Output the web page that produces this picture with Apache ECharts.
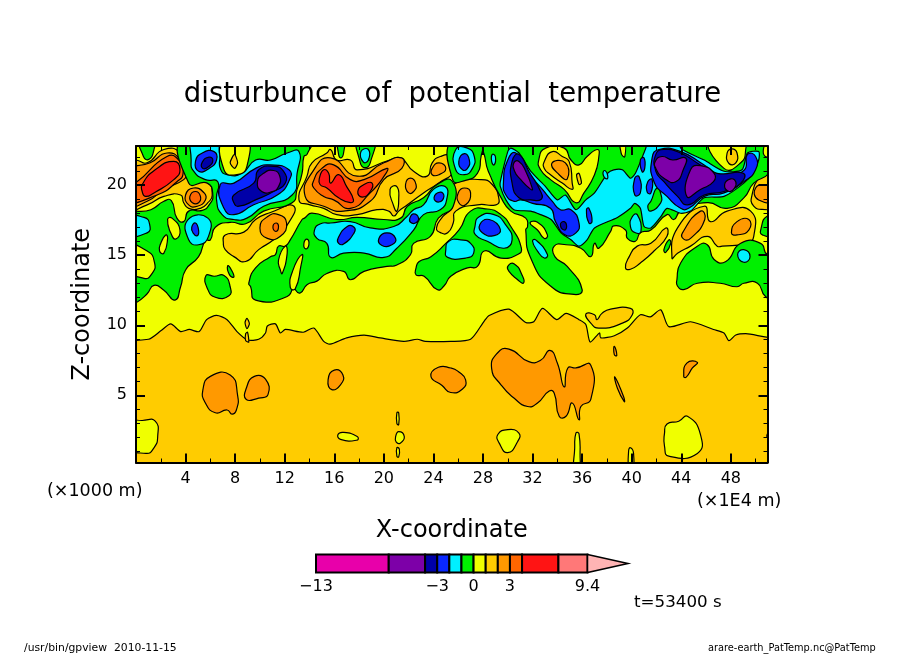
<!DOCTYPE html>
<html><head><meta charset="utf-8">
<style>html,body{margin:0;padding:0;background:#fff}#c{width:904px;height:654px}</style>
<script src="https://cdn.jsdelivr.net/npm/echarts@6/dist/echarts.min.js"></script>
</head><body><div id="c"></div>
<script>
// ---- labels and ticks
const xTicks=[4,8,12,16,20,24,28,32,36,40,44,48];
const zTicks=[5,10,15,20];
const zMinorTicks=[1,2,3,4,6,7,8,9,11,12,13,14,16,17,18,19,21,22];
const barLabels=[-13,-3,0,3,9.4];
// ---- colour scale: band edges and colours
const levels=[-13,-7,-4,-3,-2,-1,0,1,2,3,4,7,9.4];
const bandColors=['#e800aa','#7d00a8','#0000a8','#0a28ff','#00f0ff','#00f000','#f0ff00','#ffcc00','#ff9900','#ff6600','#ff1414','#ff7878'];
const overColor='#ffb4b4';
const barTip=12.74;
// ---- contour outlines, each as [x (1000 m), z (1000 m)]
const baseField=[[-1,-1],[53,-1],[53,24],[-1,24]];
const yellowUpper=[[-1,9.2],[1,9],[2,9.6],[2.8,10.1],[3.6,9.55],[4.3,9.7],[5.1,9.55],[5.7,10.4],[6.5,10.7],[7.35,10.4],[8.15,9.55],[9,8.95],[9.9,9],[10.45,9.45],[10.6,9.95],[11.25,10.1],[11.65,9.45],[12.05,9.7],[13.5,9.5],[14.35,9.8],[15.15,8.85],[15.65,8.65],[17,9.1],[18.4,9.3],[19.7,9.1],[21.6,8.85],[22.7,9],[23.35,8.85],[25.4,8.85],[27,9],[28.1,10.3],[28.5,10.7],[30.1,11.15],[31.45,10.2],[32.1,10.25],[32.8,11.2],[33.95,10.4],[34.7,10.85],[35.75,10.4],[36.3,10.05],[36.65,8.8],[37.4,9.45],[37.5,9.1],[38.6,9.25],[39.65,9.8],[40.7,10.75],[41.5,10.6],[42.35,11.1],[43,9.9],[44.75,10.25],[46.6,9.7],[47.45,9.45],[47.85,8.9],[48.4,9.3],[49.2,9.4],[52,9.3],[53,24],[-1,24]];
const goldInYellow1=[[36.3,10.8],[37,10.75],[37.2,10.4],[37.6,10.85],[38.3,11.15],[39.9,11.2],[40.05,10.75],[39.25,10.15],[37.35,9.8],[36.7,10.15]];
const goldInYellow2=[[8.8,10.2],[8.95,10.5],[9.15,10.1],[8.95,9.75]];
const goldInYellow3=[[8.85,9.4],[9,9.5],[9.1,8.8],[8.85,8.9]];
const orangeLow1=[[5.4,5.4],[6,6.35],[7.6,6.45],[8.2,5],[8.1,3.95],[7.75,3.65],[7.35,3.95],[6.4,3.75],[5.6,4.45]];
const orangeLow2=[[8.9,5.5],[9.55,6.35],[10.45,6.15],[10.65,5.05],[9.9,4.8],[8.9,4.7]];
const orangeLow3=[[15.5,6.1],[16,6.8],[16.7,6.45],[16.5,5.75],[15.8,5.4]];
const orangeLow4=[[23.8,6.35],[24.4,7],[25.4,6.95],[26,6.7],[26.6,6.1],[26.35,5.45],[25.4,5.2],[24.7,5.7]];
const orangeLow5=[[28.7,6.9],[29.15,8],[30.1,8.3],[31.7,7.4],[32.65,7.5],[33.4,8.2],[34,7.3],[34.55,5.6],[34.85,6.95],[35.5,6.95],[36.7,7.15],[36.7,4.7],[35.9,4.2],[35.75,3.25],[35.2,4.45],[34.7,3.5],[34.15,3.5],[33.75,5.15],[33.35,5.3],[32.4,4.45],[31.6,4.2],[30.5,4.8],[29.45,5.75]];
const orangeLow6=[[38.6,8.5],[38.8,7.85],[38.6,7.9]];
const orangeLow7=[[38.65,6.3],[39.35,4.9],[39.4,4.55],[38.85,5.5]];
const orangeLow8=[[44.2,6.35],[44.45,7.3],[45.3,7.35],[44.9,6.95],[44.4,6.3]];
const yellowLow1=[[-1,3.1],[0.5,3.2],[1.55,3.15],[1.75,2.05],[1.45,1.25],[0.8,0.85],[-1,1.45]];
const yellowLow2=[[16.3,2.2],[16.75,2.35],[17.85,2.05],[17.85,1.8],[16.5,1.85]];
const yellowLow3=[[21.05,3.75],[21.2,3.75],[21.2,2.9],[21.05,3]];
const yellowLow4=[[20.95,2.05],[21.2,2.4],[21.65,2.05],[21.35,1.6],[21,1.65]];
const yellowLow5=[[21.05,1.25],[21.25,1.15],[21.2,0.6],[21.05,0.65]];
const yellowLow6=[[29.2,2.2],[30,2.55],[30.9,2.3],[30.8,1.7],[30,0.9],[29.3,1.6]];
const yellowLow7=[[35.5,2.3],[35.75,2.25],[35.85,0.3],[35.9,-0.5],[35.4,-0.5],[35.4,1.2]];
const yellowLow8=[[39.75,1],[39.9,1.25],[40.15,0.85],[40.05,-0.5],[39.8,-0.5]];
const yellowLow9=[[42.65,2.3],[42.85,2.95],[43.8,3.15],[44.5,3.5],[45.55,2.2],[45.3,0.85],[43,0.65],[42.65,1.35]];
const yellowLow10=[[50.9,2.1],[52,2.6],[52,1.6]];
// warm cells in the upper field
const goldA=[[-1,21.8],[0,21.8],[0.9,21.6],[2.25,22.55],[3.6,22.3],[4.2,21],[4.25,20.3],[5.75,20.2],[6.15,19.3],[5.8,18.75],[5.2,18.35],[4.25,18.35],[3.85,18.75],[3.6,19.3],[2.25,19.2],[0.9,18.6],[-1,18.25]];
const orangeA=[[-1,20.9],[1.15,21.6],[2.5,22.3],[3.6,21.8],[4,20.85],[3.85,20.4],[2.25,19.7],[0.9,18.85],[-1,18.5]];
const darkOrangeA=[[-1,19.9],[0,20.2],[2.5,22.05],[3.45,21.8],[3.8,20.85],[3.3,20.25],[1.7,19.3],[-1,18.8]];
const redA=[[0.5,20.05],[1.55,21.1],[3.05,21.7],[3.55,21.1],[3.05,20.4],[1.45,19.45],[0.75,19.2],[0.5,19.55]];
const orangeB=[[4,19.3],[4.65,19.8],[5.5,19.45],[5.6,18.95],[4.95,18.5],[4.25,18.6]];
const darkOrangeB=[[4.35,19.2],[4.8,19.55],[5.2,19.2],[5.05,18.75],[4.55,18.75]];
const goldC=[[13.15,18.95],[13.8,20.65],[14.2,21.6],[15.4,22.3],[15.7,22.55],[16.2,21.8],[17.3,21.8],[17.85,21.1],[20.5,21.8],[21.35,21.95],[22.4,21],[23.5,20.65],[23.9,21.6],[24.55,22.05],[25.35,22.05],[25.6,21],[24.4,20.15],[23.2,19.45],[21.9,18.6],[21.2,18.15],[20.8,17.8],[20.4,18.15],[19.45,18.25],[17.85,17.9],[16.2,17.9],[15.15,18.35],[14.05,18.6]];
const yellowInGoldC=[[20.5,19.7],[21.05,19.9],[21.2,18.95],[21.05,18.15],[20.8,18.5]];
const orangeC=[[13.65,19.2],[14.35,21.1],[15.7,21.95],[17.85,20.65],[20,21.6],[21.45,21.95],[21.45,21.2],[20,20.4],[18.9,18.85],[16.75,18.15],[15.15,18.5]];
const darkOrangeC=[[14.3,20.25],[15,21.2],[15.95,21.45],[17.3,20.4],[18.4,20.4],[20.25,21.2],[20.1,20.75],[18.9,19.45],[17.3,18.35],[15.95,18.95],[15.15,19.2],[14.35,19.8]];
const redC1=[[14.8,20.5],[15.15,21.1],[15.55,20.85],[15.7,20.15],[16.35,20.75],[17,19.9],[17.55,18.95],[17.3,18.75],[16.35,19.1],[15.4,19.8],[14.85,20.05]];
const redC2=[[17.9,19.55],[18.4,20.05],[19.05,20.15],[18.9,19.55],[18.25,19.15]];
const orangeD=[[21.75,20.05],[22.15,20.5],[22.6,20.05],[22.4,19.55],[22,19.45]];
const orangeE=[[23.9,21.2],[24.45,21.6],[25,21.2],[24.45,20.75],[23.9,20.75]];
const goldF=[[7.05,15.85],[7.2,16.45],[8.7,16.65],[9.65,17.55],[10.85,18.05],[12.75,18.5],[12.05,16.95],[11.1,16.1],[9.9,15.4],[8.85,14.55],[7.9,14.9],[7.2,15.4]];
const orangeF=[[10,16.95],[10.6,17.75],[11.5,17.9],[12.15,17.3],[11.65,16.35],[10.6,16.2]];
const darkOrangeF=[[11.05,17],[11.3,17.3],[11.5,17.05],[11.3,16.7]];
const goldG=[[25.8,20.15],[27.8,20.4],[28.75,20.05],[29.3,18.95],[29.05,18.6],[27.55,18.6],[25.8,18.15],[25.6,17.3],[25.15,16.6],[24.6,16.6],[24.25,16.95],[24.75,17.75],[25.4,18.35],[25.25,19.3]];
const orangeG=[[26,19.45],[26.5,19.8],[27,19.45],[26.6,18.6],[26.05,18.75]];
const goldH=[[39.5,14.1],[39.8,14.9],[40.45,15.65],[41.55,15.85],[42.75,16.95],[42.85,16.35],[41.8,15.3],[40.7,14.45],[39.9,14]];
const goldI=[[43.25,14.8],[43.7,16.95],[45.85,18.5],[46.35,17.4],[47.7,18.15],[49.6,18.15],[49.85,16.35],[49.2,15.85],[47.3,15.65],[46.9,15.65],[46.1,16.35],[44.75,15.65],[43.7,15.15]];
const orangeI1=[[44.1,16.6],[45.55,18.15],[45.9,17.55],[44.75,16.2],[44.2,16.15]];
const orangeI2=[[48.05,16.6],[48.5,17.4],[49.45,17.55],[49.45,16.8],[48.5,16.45]];
const goldJ=[[49.75,19.45],[50.4,20.65],[50.95,20.85],[52,20.65],[52,18.25],[50.95,18.25],[49.85,18.5]];
const orangeJ=[[50,19.8],[50.95,20.05],[52,20.05],[52,18.95],[50.25,18.95]];
// green cells
const greenA=[[-1,17.7],[1.2,18.25],[2.25,18.85],[2.85,18.9],[3.3,17.65],[3.85,17.4],[4.25,18.15],[5.35,18.2],[5.9,18.6],[6.2,19.3],[5.75,20.15],[4.25,20.15],[4.1,23.5],[14.2,23.5],[13.8,22.2],[13.55,22.05],[13.4,20.85],[13,19.7],[12.6,18.75],[10.3,18.15],[8.85,17.25],[7.6,17.35],[6.4,17],[6,16.1],[5.6,16.05],[5.05,14.9],[4,13.95],[3.6,12.75],[3.15,11.8],[2.25,12.5],[1.45,12.85],[0.9,12.25],[0,11.6],[-1,11.2]];
const greenB=[[5.65,13.55],[6.3,13.5],[7.1,13.55],[7.6,12.75],[7.5,12.1],[6.4,12],[5.75,12.65]];
const greenC=[[7.4,14.25],[7.7,13.95],[7.9,13.45],[7.55,13.6]];
const greenD=[[13.6,17.65],[14.2,18],[16.2,17.55],[17.85,17.7],[20,17.55],[21.35,17.65],[21.9,18.5],[23.2,19.1],[24.3,20.05],[25.5,20.3],[25.6,18.5],[24.4,17.65],[23.75,16.35],[22.4,15.85],[22.15,15.05],[21.05,14.3],[20.25,14.2],[18.4,13.85],[17.3,13.25],[16.75,13.85],[15.4,13.7],[14.6,13.15],[13.8,12.9],[13.25,12.3],[12.85,12.55],[12.75,13],[12.2,12.05],[9.65,11.8],[9.25,12.75],[9.1,13],[9.65,14.1],[10.85,14.9],[11.25,15.05],[11.5,15.65],[12.05,15.65],[12.45,16.1],[13.4,17.55]];
const greenE=[[22.6,14.1],[22.6,13.6],[23.25,13.5],[24.3,12.55],[24.85,12.8],[25.4,13.5],[26.75,14.1],[27.55,14.2],[28.1,15.3],[29.45,14.8],[30.8,15.05],[31.1,15.5],[30.25,17.05],[29.45,17.9],[28.35,18.3],[27,18.15],[26.1,16.85],[25,15.85],[23.8,14.9],[22.85,14.55]];
const greenF=[[30,14.2],[30.5,14.4],[31.2,13.5],[31.25,13],[30.8,13.25],[30.1,13.85]];
const greenG=[[28.2,23.5],[28.2,21.8],[28.6,20.65],[29.4,19.2],[30.25,18.15],[31.45,17.65],[31.6,17.05],[31.45,16.8],[31.85,14.8],[33.45,12.8],[35.35,12.2],[36,12.55],[34.8,14.2],[33.8,14.9],[33.75,15.65],[34.7,15.75],[35.9,15.5],[36.7,14.9],[37,15.85],[37.35,15.5],[38.3,16.7],[38.55,17.1],[39.5,16.8],[39.65,16.2],[40.3,16],[40.7,16.6],[41.55,16.8],[42.85,17.9],[43.4,17.55],[43.95,18.15],[46.1,18.75],[47.7,18.35],[49.05,19.1],[49.85,20.15],[51.05,20.85],[51.2,21.8],[50.65,22.2],[50.55,23.5]];
const greenH=[[43.65,13.25],[43.95,14.45],[45.3,15.65],[46.1,15.75],[46.65,14.7],[47.6,14.55],[48.8,15.85],[50.4,15.85],[50.95,15.05],[52,15.05],[52,11.6],[50.8,12.05],[50.15,13],[49.05,13],[48.5,12.75],[47.15,13],[45.3,13],[44.2,12.55],[43.7,12.8]];
const greenI=[[25.55,23.5],[25.55,20.4],[26.6,20.35],[27.55,20.85],[27.8,21.8],[27.85,23.5]];
const greenTop1=[[0.3,23.5],[0.6,22.05],[1.05,21.85],[1.45,22.55],[1.5,23.5]];
const greenTop2=[[16.3,23.5],[16.35,22.2],[16.55,21.95],[16.75,22.3],[16.8,23.5]];
const greenTop3=[[17.9,23.5],[18.1,21.6],[18.5,21.25],[18.9,21.6],[19.2,23.5]];
const greenRight=[[50.45,16.95],[50.95,17.8],[52,17.8],[52,16.45],[50.55,16.45]];
const greenSmall=[[42.6,15.4],[43,16.1],[43.15,15.85],[42.75,15.2]];
// cyan cells
const cyanA=[[-1,17.7],[0.65,17.7],[1.1,17.2],[0.9,16.6],[-1,16.45]];
const cyanB=[[4.2,17.55],[5.8,17.65],[5.85,16.35],[5.05,15.75],[4.25,16.1]];
const cyanC=[[4.65,23.5],[4.45,21.8],[4.65,21],[5.6,20.4],[6.6,20.25],[6.5,18.95],[6.95,17.9],[7.9,17.55],[8.95,17.65],[10.3,18.5],[12.6,19.3],[13,20.85],[13.15,22.4],[12.2,22.3],[10.85,21.8],[9.65,21.8],[8.55,20.85],[7.35,20.75],[6.8,21.2],[6.75,22.2],[6.4,23.5]];
const cyanD=[[18.15,22.4],[18.75,22.55],[18.75,21.8],[18.35,21.65]];
const cyanE=[[14.4,16.8],[14.9,17.25],[15.7,17.3],[17.3,17.4],[18.9,16.95],[20.8,17.05],[21.85,17.75],[22.4,18.25],[23.2,18.6],[24,19.7],[24.95,19.9],[25.1,19.1],[24.55,18.25],[23.2,17.9],[22.4,16.8],[21.05,15.5],[20,14.85],[18.4,15.15],[16.75,15.15],[15.7,14.85],[15.4,15.85],[14.6,16.2]];
const cyanF=[[25,15.4],[25.25,16],[26.2,16.1],[27,15.85],[27.25,15.15],[26.6,14.8],[25.15,14.85]];
const cyanG=[[25.8,22.55],[26.75,22.65],[27.3,22.05],[27.15,21.2],[26.5,20.75],[25.8,21.1]];
const cyanH=[[27.35,17.05],[27.7,17.75],[28.9,17.9],[29.85,17.15],[30.35,16.1],[29.7,15.5],[28.35,16],[27.4,16.45]];
const cyanI=[[32,16],[32.25,16.1],[33.2,15.05],[32.95,14.8],[32.4,15.3]];
const cyanJ=[[28.75,22.2],[29,22.05],[28.9,21.45],[28.7,21.7]];
const cyanK=[[29.4,20.25],[30,22.4],[30.25,22.65],[30.9,22.3],[31.85,21],[33.05,19.9],[34,18.95],[34.65,19.3],[35.5,18.25],[36.3,18.95],[37,19.45],[38.05,20.85],[38.55,21.1],[39.25,21.1],[39.9,20.5],[40.3,20.85],[41.1,22.55],[41.55,23.5],[43.9,23.5],[43.95,22.65],[45.85,21.8],[47.45,21],[48.9,21.1],[49.35,22.3],[50.25,22.4],[50.25,21.8],[49.75,20.85],[49.05,20.15],[47.45,19.2],[45.85,19.1],[44.75,18.15],[43.95,18],[42.85,18.35],[42.35,17.75],[41.55,16.95],[41,17.05],[40.7,18.35],[40.25,18.7],[39.9,18.35],[38.85,17.7],[37,16.95],[36.4,16.1],[35.75,15.65],[35.1,16.1],[34.3,16.6],[33.5,17.55],[32.65,17.9],[31.85,18.15],[30.5,18.25],[29.85,18.95],[29.4,19.9]];
const cyanL=[[40.05,17.75],[40.45,17.9],[40.75,16.7],[40.3,16.6],[39.9,17.05]];
const greenInCyan=[[41.55,18.85],[42.05,19.8],[42.4,19.2],[42.35,18.75],[41.55,18.15],[41.3,18.5]];
const cyanM=[[37.8,21.05],[38.05,20.75],[38,20.45],[37.7,20.75]];
const cyanN=[[48.55,15.05],[49.05,15.4],[49.55,14.9],[49.05,14.5]];
// blue cells
const blueA=[[4.8,21.7],[5.35,22.3],[6.3,22.4],[6.5,21.8],[5.9,21.2],[5.05,21]];
const blueB=[[6.8,20.05],[7.9,20.15],[9.65,21.2],[10.85,21.45],[12.35,21.1],[12.4,20.4],[11.4,19.3],[9.5,18.6],[7.9,17.9],[7.1,18.35]];
const blueC=[[16.3,16.2],[17.05,17.05],[17.6,17],[17.6,16.6],[16.75,15.8],[16.35,15.85]];
const blueD=[[19.6,16.2],[20.25,16.6],[20.95,16.2],[20.65,15.75],[19.85,15.7]];
const blueE=[[22.1,17.65],[22.4,17.95],[22.8,17.65],[22.55,17.3],[22.15,17.35]];
const blueF=[[24.05,19.1],[24.55,19.5],[24.85,19.2],[24.45,18.8]];
const blueG=[[4.5,17],[4.8,17.3],[5.05,16.8],[4.95,16.4],[4.6,16.6]];
const blueH=[[26.05,21.7],[26.5,22.25],[26.9,21.8],[26.75,21.2],[26.35,21.1]];
const blueI=[[27.75,17.2],[28.5,17.55],[29.4,16.85],[28.9,16.4],[27.95,16.6]];
const blueJ=[[40.7,21.8],[41,21.95],[41.05,21.2],[40.85,20.95]];
const blueK=[[36.35,18.25],[36.55,18.35],[36.8,17.4],[36.55,17.3]];
const blueL=[[40.25,20.5],[40.6,20.6],[40.7,19.45],[40.25,19.3]];
const blueM=[[41.3,20.25],[41.65,20.4],[41.55,19.45],[41.25,19.5]];
const blueN=[[29.65,20.15],[30,21.8],[30.65,22.3],[31.7,20.85],[32.8,19.7],[33.6,18.85],[34.25,18.25],[35.1,18.25],[35.75,17.3],[35.5,16.6],[34.65,16.45],[33.85,17.4],[33.45,18.35],[32,18.7],[31.05,18.95],[30.5,18.85],[29.85,19.3]];
const blueO=[[41.65,21.95],[42.2,22.55],[43.95,22.4],[45.85,21.45],[47.2,20.75],[49.05,21.05],[49.35,22.2],[50,22.05],[50,21.1],[49.05,20.25],[47.45,19.45],[45.85,19.2],[44.6,18.35],[43.95,18.35],[42.85,19.2],[41.8,20.25]];
// navy cells
const navyA=[[5.35,21.65],[5.9,22],[6.2,21.8],[5.9,21.35],[5.4,21.2]];
const navyB=[[7.9,19.3],[9.5,20.15],[9.9,21.1],[11.1,21.35],[11.9,21],[12.05,20.15],[11.1,19.55],[9.65,18.95],[8.3,18.5],[7.9,18.75]];
const navyC=[[30.35,21.7],[30.9,22.2],[31.7,21],[32.65,19.55],[32.7,19],[31.85,18.95],[30.9,19.1],[30.35,20.15]];
const navyD=[[34.25,17.2],[34.55,17.4],[34.75,17.05],[34.55,16.8]];
const navyE=[[41.95,22.2],[42.6,22.55],[43.95,22.3],[45.55,21.45],[46.9,20.85],[49,20.85],[48.8,20.15],[47.45,19.55],[45.85,19.3],[44.5,18.6],[43.7,19.2],[42.6,20.25],[41.95,21]];
// purple cells
const purpleA=[[9.8,20.25],[10.3,20.85],[11.1,21.05],[11.6,20.65],[11.5,19.9],[11,19.55],[10.15,19.55]];
const purpleB=[[30.5,21.6],[30.9,21.7],[31.45,21],[32,19.7],[31.85,19.7],[31.05,20.4],[30.55,21]];
const purpleC=[[41.9,21.7],[42.45,22.05],[43.3,21.8],[44.35,21.95],[44.2,21.2],[43.55,20.25],[42.6,20.5],[41.95,21.2]];
const purpleD=[[44.45,19.2],[44.75,21.1],[45.55,21.4],[46.65,20.85],[46.6,20.25],[45.55,19.7]];
const purpleE=[[47.5,20.05],[48,20.45],[48.4,20.25],[48.3,19.8],[47.85,19.55]];
// yellow and warm cells lying on the green field
const yellowL1=[[-1,15.75],[0.9,15.3],[1.5,14.45],[1.3,13.7],[0.65,13.35],[-1,14.2]];
const yellowL2=[[2.55,17.55],[2.9,17.65],[3.55,16.8],[3.2,16.15],[2.8,16.6]];
const yellowL3=[[2,15.85],[2.4,16.45],[2.55,16.2],[2.25,15.15],[1.9,15.3]];
const yellowTop1=[[7.1,23.5],[7.1,21.1],[8.15,20.75],[8.95,21.35],[8.85,23.5]];
const goldTop1=[[7.6,21.6],[7.95,22.2],[8.2,21.6],[7.95,21.2]];
const yellowS1=[[12.05,15.65],[12.2,15.15],[11.8,13.7],[11.65,13.95],[11.5,14.65]];
const yellowS2=[[13.55,15.85],[13.8,16.15],[13.95,15.75],[13.7,15.45]];
const yellowS3=[[13.4,15.05],[13.3,14.2],[12.85,12.6],[12.45,12.7],[12.65,13.9]];
const yellowTop2=[[32.5,21.8],[33.05,22.65],[34.55,22.65],[35.1,21.8],[35.75,21.45],[36.4,22.05],[37.25,22.55],[37.35,22.05],[37,20.75],[36.15,19.45],[35.5,18.75],[34.55,19.7],[33.45,20.4],[32.65,21.1]];
const goldTop2=[[32.95,21.7],[33.6,22.4],[34.4,22.05],[34.95,21.7],[35.2,20.15],[35.2,19.7],[34.4,20.15],[33.45,20.75],[32.95,21.2]];
const orangeTop2=[[33.55,21.55],[34.65,21.6],[34.8,20.45],[34.15,20.75]];
const goldSliver=[[35.55,20.75],[35.75,20.85],[35.95,20.15],[35.75,20.05]];
const yellowLobe=[[31.8,17.3],[32.4,17.35],[33.2,16.45],[32.95,16.2],[32.4,16.8]];
const yellowTop3=[[39.1,23.5],[39.4,23.5],[39.45,22.05],[39.15,22.3]];
const yellowTop4=[[46.25,23.5],[47.45,21.2],[48.8,21.6],[49.2,22.55],[49.05,23.5]];
const goldTop4=[[47.7,22.3],[48.1,22.6],[48.5,22.3],[48.4,21.6],[47.85,21.55]];

// value of each region (picks its band colour), in painting order
const regions=[
 [1.5,baseField],[0.5,yellowUpper],
 [1.5,goldInYellow1],[1.5,goldInYellow2],[1.5,goldInYellow3],
 [2.5,orangeLow1],[2.5,orangeLow2],[2.5,orangeLow3],[2.5,orangeLow4],[2.5,orangeLow5],[2.5,orangeLow6],[2.5,orangeLow7],[2.5,orangeLow8],
 [0.5,yellowLow1],[0.5,yellowLow2],[0.5,yellowLow3],[0.5,yellowLow4],[0.5,yellowLow5],[0.5,yellowLow6],[0.5,yellowLow7],[0.5,yellowLow8],[0.5,yellowLow9],[0.5,yellowLow10],
 [1.5,goldA],[2.5,orangeA],[3.5,darkOrangeA],[5,redA],[2.5,orangeB],[3.5,darkOrangeB],
 [1.5,goldC],[0.5,yellowInGoldC],[2.5,orangeC],[3.5,darkOrangeC],[5,redC1],[5,redC2],[2.5,orangeD],[2.5,orangeE],
 [1.5,goldF],[2.5,orangeF],[3.5,darkOrangeF],[1.5,goldG],[2.5,orangeG],[1.5,goldH],[1.5,goldI],[2.5,orangeI1],[2.5,orangeI2],[1.5,goldJ],[2.5,orangeJ],
 [-0.5,greenA],[-0.5,greenB],[-0.5,greenC],[-0.5,greenD],[-0.5,greenE],[-0.5,greenF],[-0.5,greenG],[-0.5,greenH],[-0.5,greenI],[-0.5,greenTop1],[-0.5,greenTop2],[-0.5,greenTop3],[-0.5,greenRight],[-0.5,greenSmall],
 [-1.5,cyanA],[-1.5,cyanB],[-1.5,cyanC],[-1.5,cyanD],[-1.5,cyanE],[-1.5,cyanF],[-1.5,cyanG],[-1.5,cyanH],[-1.5,cyanI],[-1.5,cyanJ],[-1.5,cyanK],[-1.5,cyanL],[-0.5,greenInCyan],[-1.5,cyanM],[-1.5,cyanN],
 [-2.5,blueA],[-2.5,blueB],[-2.5,blueC],[-2.5,blueD],[-2.5,blueE],[-2.5,blueF],[-2.5,blueG],[-2.5,blueH],[-2.5,blueI],[-2.5,blueJ],[-2.5,blueK],[-2.5,blueL],[-2.5,blueM],[-2.5,blueN],[-2.5,blueO],
 [-3.5,navyA],[-3.5,navyB],[-3.5,navyC],[-3.5,navyD],[-3.5,navyE],
 [-5,purpleA],[-5,purpleB],[-5,purpleC],[-5,purpleD],[-5,purpleE],
 [0.5,yellowL1],[0.5,yellowL2],[0.5,yellowL3],[0.5,yellowTop1],[1.5,goldTop1],[0.5,yellowS1],[0.5,yellowS2],[0.5,yellowS3],
 [0.5,yellowTop2],[1.5,goldTop2],[2.5,orangeTop2],[1.5,goldSliver],[0.5,yellowLobe],[0.5,yellowTop3],[0.5,yellowTop4],[1.5,goldTop4]
];
function colorOf(v){for(let i=0;i<bandColors.length;i++){if(v<levels[i+1])return bandColors[i];}return overColor;}
const FONT='DejaVu Sans';
const chart=echarts.init(document.getElementById('c'),null,{renderer:'canvas',width:904,height:654});
const GRID={left:136,top:146,width:631.5,height:316.5};
const xExt={min:0,max:50.96};
const zExt={min:0.2,max:22.8};
const blk={color:'#000',width:2};
function xA(pos,show,name){return {type:'value',gridIndex:0,position:pos,...xExt,interval:4,z:10,
  axisLine:{show:true,onZero:false,lineStyle:blk},splitLine:{show:false},
  axisTick:{show:true,inside:true,length:9,lineStyle:{color:'#000',width:2}},
  minorTick:{show:true,splitNumber:2,length:4,lineStyle:{color:'#000',width:1}},minorSplitLine:{show:false},
  axisLabel:{show:show,customValues:xTicks,margin:8,fontFamily:FONT,fontSize:16,color:'#000'},
  name:name||'',nameLocation:'center',nameGap:56,nameTextStyle:{fontFamily:FONT,fontSize:24,color:'#000'}};}
function zA(pos,show,name){return {type:'value',gridIndex:0,position:pos,...zExt,z:10,
  axisLine:{show:true,onZero:false,lineStyle:blk},splitLine:{show:false},
  axisTick:{show:true,inside:true,length:9,customValues:zTicks,lineStyle:{color:'#000',width:2}},
  axisLabel:{show:show,customValues:zTicks,margin:9,fontFamily:FONT,fontSize:16,color:'#000'},
  name:name||'',nameLocation:'center',nameGap:41,nameRotate:90,nameTextStyle:{fontFamily:FONT,fontSize:24,color:'#000'}};}
function zMinor(pos){return {type:'value',gridIndex:0,position:pos,...zExt,z:10,
  axisLine:{show:false,onZero:false},splitLine:{show:false},
  axisTick:{show:true,inside:true,length:4,customValues:zMinorTicks,lineStyle:{color:'#000',width:1}},
  axisLabel:{show:false}};}
function txt(x,y,s,size,align){return {type:'text',x:x,y:y,z:20,style:{text:s,fontFamily:FONT,fontSize:size,fill:'#000',textAlign:align||'left',textVerticalAlign:'middle'}};}
const barBands=levels.slice(0,-1).map((lo,i)=>[lo,levels[i+1],bandColors[i]]);
chart.setOption({
 animation:false,backgroundColor:'#fff',
 title:{text:'disturbunce  of  potential  temperature',left:447.5,top:76,textAlign:'center',textStyle:{fontFamily:FONT,fontWeight:'normal',fontSize:27.5,color:'#000'}},
 grid:[GRID,{left:316,top:554.5,width:312,height:18}],
 xAxis:[xA('bottom',true,'X-coordinate'),xA('top',false),
  {type:'value',gridIndex:1,position:'bottom',min:levels[0],max:barTip,axisLine:{show:false},axisTick:{show:false},splitLine:{show:false},
   axisLabel:{customValues:barLabels,margin:6,fontFamily:FONT,fontSize:16,color:'#000',formatter:v=>String(v).replace('-','\u2212')}}],
 yAxis:[zA('left',true,'Z-coordinate'),zA('right',false),zMinor('left'),zMinor('right'),
  {type:'value',gridIndex:1,min:0,max:1,show:false}],
 graphic:[
  txt(47,491,'(\u00d71000 m)',17.5),
  txt(697,501,'(\u00d71E4 m)',17.5),
  txt(634,603,'t=53400 s',16.7),
  txt(24,648,'/usr/bin/gpview  2010-11-15',10.8),
  txt(708,648,'arare-earth_PatTemp.nc@PatTemp',9.8)
 ],
 series:[
  {type:'custom',coordinateSystem:'cartesian2d',xAxisIndex:0,yAxisIndex:0,clip:true,z:2,silent:true,
   data:regions.map((r,i)=>[i]),encode:{x:-1,y:-1},
   renderItem:function(params,api){
     const r=regions[params.dataIndex];
     return {type:'polygon',shape:{points:r[1].map(p=>api.coord(p)),smooth:r[1].length>40||r[0]===1.5&&r[1].length<5?0.25:0.55},
       style:{fill:colorOf(r[0]),stroke:'#000',lineWidth:1.2}};
   }},
  {type:'custom',coordinateSystem:'cartesian2d',xAxisIndex:2,yAxisIndex:4,z:3,silent:true,clip:false,
   data:barBands.map((b,i)=>[i]),encode:{x:-1,y:-1},
   renderItem:function(params,api){
     const b=barBands[params.dataIndex];
     const a=api.coord([b[0],1]),c=api.coord([b[1],0]);
     return {type:'rect',shape:{x:a[0],y:a[1],width:c[0]-a[0],height:c[1]-a[1]},style:{fill:b[2],stroke:'#000',lineWidth:2}};
   }},
  {type:'custom',coordinateSystem:'cartesian2d',xAxisIndex:2,yAxisIndex:4,z:3,silent:true,clip:false,
   data:[[0]],encode:{x:-1,y:-1},
   renderItem:function(params,api){
     const top=levels[levels.length-1];
     return {type:'polygon',shape:{points:[api.coord([top,1]),api.coord([barTip,0.5]),api.coord([top,0])]},style:{fill:overColor,stroke:'#000',lineWidth:1.5}};
   }}
 ]
});
</script></body></html>
